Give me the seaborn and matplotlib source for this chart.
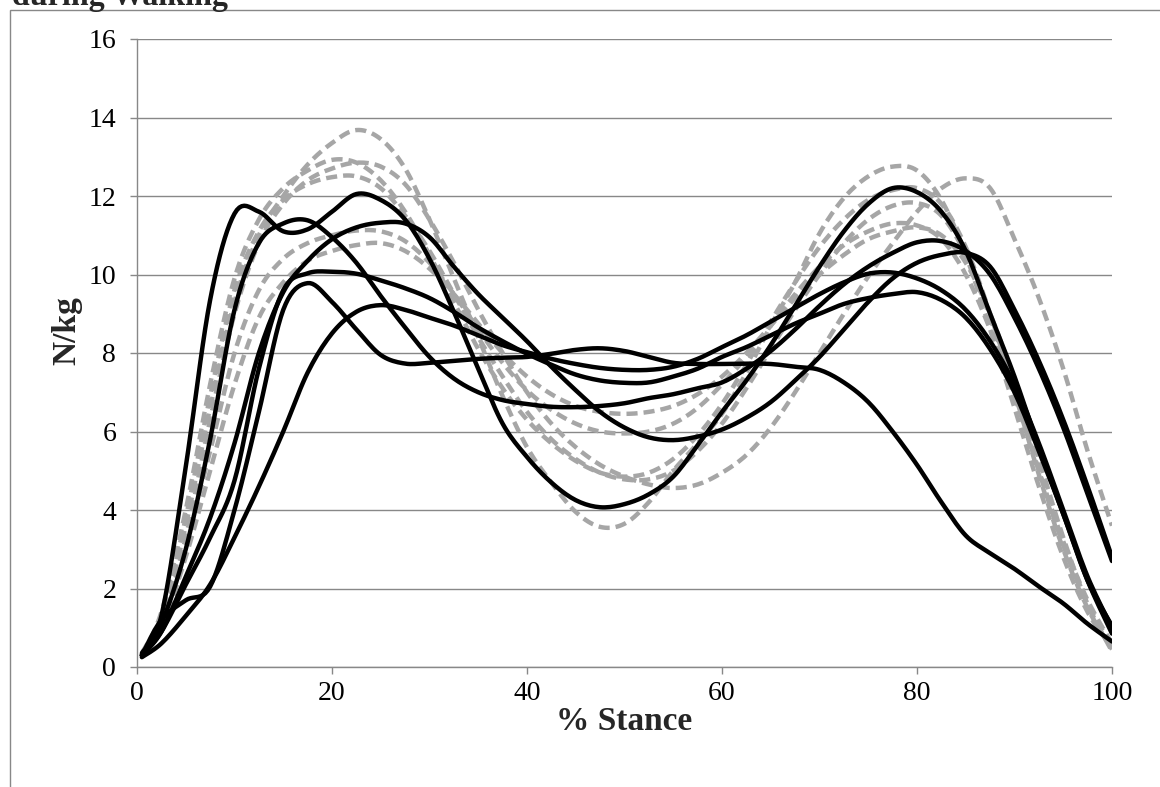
import matplotlib
matplotlib.use("Agg")
import matplotlib.pyplot as plt
from matplotlib.patches import Rectangle
import numpy as np
import pandas as pd
import seaborn as sns

# % stance sample points
stance = [0.5, 2.5, 5, 7.5, 10, 12.5, 15, 17.5, 20, 22.5, 25, 27.5, 30, 32.5, 35,
          37.5, 40, 42.5, 45, 47.5, 50, 52.5, 55, 57.5, 60, 62.5, 65, 67.5, 70,
          72.5, 75, 77.5, 80, 82.5, 85, 87.5, 90, 92.5, 95, 97.5, 100]

# vertical force (N/kg), solid black group
black_1 = [0.35, 1.3, 5.1, 9.35, 11.55, 11.6, 11.1, 11.15, 11.6, 12.05, 11.9, 11.4, 10.4,
           9.05, 7.6, 6.2, 5.35, 4.7, 4.25, 4.07, 4.15, 4.4, 4.85, 5.65, 6.5, 7.3, 8.2,
           9.2, 10.2, 11.1, 11.8, 12.2, 12.1, 11.6, 10.6, 9.0, 7.4, 5.6, 3.9, 2.2, 1.05]
black_2 = [0.3, 1.1, 3.0, 5.8, 9.1, 10.8, 11.3, 11.38, 10.95, 10.3, 9.45, 8.65, 7.9, 7.35,
           7.0, 6.8, 6.7, 6.63, 6.62, 6.65, 6.72, 6.85, 6.95, 7.1, 7.25, 7.6, 8.05, 8.6,
           9.2, 9.75, 10.2, 10.55, 10.82, 10.85, 10.6, 10.0, 8.9, 7.6, 6.1, 4.4, 2.7]
black_3 = [0.3, 0.9, 2.3, 3.8, 5.7, 8.0, 9.55, 10.35, 10.9, 11.2, 11.32, 11.3, 10.95, 10.2,
           9.5, 8.9, 8.3, 7.65, 7.05, 6.5, 6.1, 5.85, 5.78, 5.87, 6.05, 6.35, 6.75, 7.3,
           7.9, 8.6, 9.3, 9.9, 10.3, 10.5, 10.55, 10.2, 9.1, 7.8, 6.3, 4.6, 2.8]
black_4 = [0.3, 0.9, 2.1, 3.3, 4.75, 7.6, 9.6, 10.03, 10.07, 10.02, 9.85, 9.65, 9.4, 9.05,
           8.65, 8.3, 7.98, 7.7, 7.45, 7.3, 7.24, 7.25, 7.4, 7.6, 7.9, 8.15, 8.45, 8.75,
           9.0, 9.25, 9.4, 9.5, 9.55, 9.35, 8.9, 8.1, 7.0, 5.5, 3.9, 2.2, 0.85]
black_5 = [0.25, 0.6, 1.3, 2.1, 3.3, 4.6, 6.0, 7.5, 8.5, 9.05, 9.22, 9.1, 8.9, 8.7, 8.45,
           8.2, 8.02, 7.85, 7.72, 7.62, 7.57, 7.57, 7.65, 7.85, 8.15, 8.45, 8.8, 9.15,
           9.5, 9.8, 10.02, 10.05, 9.9, 9.6, 9.1, 8.3, 7.2, 5.7, 4.0, 2.3, 1.0]
black_6 = [0.3, 1.2, 1.7, 2.05, 4.0, 6.5, 9.1, 9.78, 9.3, 8.6, 7.95, 7.73, 7.75, 7.8, 7.85,
           7.88, 7.9, 7.98, 8.08, 8.12, 8.05, 7.9, 7.75, 7.72, 7.72, 7.73, 7.72, 7.65,
           7.57, 7.25, 6.75, 6.0, 5.15, 4.2, 3.35, 2.9, 2.5, 2.05, 1.62, 1.1, 0.65]

# vertical force (N/kg), dashed grey group
grey_1 = [0.35, 1.2, 3.6, 6.6, 9.3, 11.0, 12.0, 12.8, 13.35, 13.68, 13.45, 12.7, 11.4, 9.9,
          8.4, 6.9, 5.6, 4.7, 3.95, 3.57, 3.65, 4.2, 5.0, 5.7, 6.45, 7.5, 8.7, 9.8,
          11.05, 11.95, 12.5, 12.75, 12.65, 11.9, 10.5, 8.6, 6.6, 4.6, 2.8, 1.4, 0.5]
grey_2 = [0.35, 1.4, 4.0, 7.2, 9.9, 11.4, 12.2, 12.65, 12.92, 12.85, 12.4, 11.6, 10.5, 9.3,
          8.1, 7.1, 6.3, 5.7, 5.25, 4.95, 4.85, 4.95, 5.3, 5.9, 6.7, 7.7, 8.8, 9.8, 10.7,
          11.4, 11.9, 12.15, 12.2, 11.8, 10.7, 9.0, 7.0, 4.9, 3.0, 1.5, 0.45]
grey_3 = [0.3, 1.1, 3.3, 6.3, 9.0, 10.8, 11.8, 12.4, 12.7, 12.85, 12.75, 12.3, 11.4, 10.3,
          9.1, 8.0, 7.0, 6.2, 5.6, 5.15, 4.85, 4.65, 4.56, 4.65, 4.95, 5.4, 6.1, 7.0,
          8.0, 9.0, 9.95, 10.8, 11.6, 12.2, 12.45, 12.2, 10.9, 9.4, 7.6, 5.5, 3.6]
grey_4 = [0.3, 1.3, 3.8, 6.9, 9.6, 11.1, 11.9, 12.3, 12.48, 12.5, 12.2, 11.5, 10.6, 9.5,
          8.4, 7.4, 6.5, 5.8, 5.3, 4.95, 4.78, 4.78, 5.0, 5.5, 6.2, 7.1, 8.1, 9.1, 10.0,
          10.8, 11.4, 11.75, 11.82, 11.5, 10.5, 8.9, 7.0, 5.0, 3.1, 1.6, 0.55]
grey_5 = [0.3, 1.1, 3.1, 5.5, 8.0, 9.6, 10.4, 10.8, 11.0, 11.12, 11.1, 10.85, 10.3, 9.5,
          8.6, 7.75, 7.05, 6.55, 6.2, 6.0, 5.95, 6.0, 6.2, 6.6, 7.2, 7.9, 8.7, 9.5,
          10.2, 10.75, 11.1, 11.3, 11.25, 10.9, 10.0, 8.6, 6.9, 5.0, 3.2, 1.7, 0.6]
grey_6 = [0.3, 1.0, 2.8, 5.0, 7.2, 8.9, 9.8, 10.35, 10.6, 10.75, 10.8, 10.6, 10.15, 9.5,
          8.75, 8.0, 7.4, 6.95, 6.65, 6.5, 6.45, 6.5, 6.65, 6.95, 7.4, 8.0, 8.7, 9.4,
          10.0, 10.5, 10.9, 11.1, 11.2, 11.0, 10.3, 9.0, 7.3, 5.3, 3.3, 1.6, 0.4]

black_series = [black_1, black_2, black_3, black_4, black_5, black_6]
grey_series = [grey_1, grey_2, grey_3, grey_4, grey_5, grey_6]

y_ticks = [0, 2, 4, 6, 8, 10, 12, 14, 16]
x_ticks = [0, 20, 40, 60, 80, 100]


def smoothed(xs, ys, steps=10):
    """Smoothed-line rendering (Catmull-Rom through every recorded sample)."""
    p = np.column_stack([xs, ys]).astype(float)
    p = np.vstack([p[0], p, p[-1]])
    out = []
    t = np.linspace(0, 1, steps, endpoint=False)[:, None]
    for i in range(1, len(p) - 2):
        p0, p1, p2, p3 = p[i - 1], p[i], p[i + 1], p[i + 2]
        seg = 0.5 * ((2 * p1) + (-p0 + p2) * t + (2 * p0 - 5 * p1 + 4 * p2 - p3) * t ** 2
                     + (-p0 + 3 * p1 - 3 * p2 + p3) * t ** 3)
        out.append(seg)
    out.append(p[-2][None, :])
    out = np.vstack(out)
    return out[:, 0], out[:, 1]


def to_long(series_list, group):
    frames = []
    for i, vals in enumerate(series_list):
        sx, sy = smoothed(stance, vals)
        frames.append(pd.DataFrame({"stance": sx, "force": sy,
                                    "trial": f"{group}{i + 1}", "group": group}))
    return pd.concat(frames, ignore_index=True)


df_grey = to_long(grey_series, "g")
df_black = to_long(black_series, "b")

sns.set_theme(style="white")
plt.rcParams["font.family"] = ["Liberation Serif", "DejaVu Serif"]

W, H = 1160, 787
fig = plt.figure(figsize=(W / 100, H / 100), dpi=100)
ax = fig.add_axes([137 / W, 1 - 667 / H, (1112 - 137) / W, (667 - 39) / H])

grid_c = "#888888"

sns.lineplot(data=df_grey, x="stance", y="force", units="trial", estimator=None,
             color="#A6A6A6", linewidth=3.2, linestyle=(0, (2.5, 1.35)),
             ax=ax, legend=False, sort=False)
sns.lineplot(data=df_black, x="stance", y="force", units="trial", estimator=None,
             color="#000000", linewidth=3.2, ax=ax, legend=False, sort=False)
for ln in ax.lines:
    ln.set_solid_joinstyle("round")
    ln.set_solid_capstyle("round")

ax.set_xlim(0, 100)
ax.set_ylim(0, 16)
ax.set_xticks(x_ticks)
ax.set_yticks(y_ticks)
ax.set_xticklabels([str(v) for v in x_ticks])
ax.set_yticklabels([str(v) for v in y_ticks])
ax.yaxis.grid(True, color=grid_c, linewidth=1.0)
ax.xaxis.grid(False)
ax.set_axisbelow(True)
for side in ["top", "right"]:
    ax.spines[side].set_visible(False)
for side in ["left", "bottom"]:
    ax.spines[side].set_color(grid_c)
    ax.spines[side].set_linewidth(1.0)
ax.tick_params(axis="both", which="major", direction="out", length=5, width=1.0,
               color=grid_c, labelsize=20, labelcolor="black",
               bottom=True, left=True)
ax.tick_params(axis="y", pad=10)
ax.tick_params(axis="x", pad=5)

ax.set_xlabel("% Stance", fontsize=24, fontweight="bold", labelpad=0)
ax.set_ylabel("N/kg", fontsize=24, fontweight="bold")
ax.yaxis.set_label_coords(-0.056, 0.535)

# chart-area border and the title's last line
fig.add_artist(Rectangle((10 / W, -0.2), 2.0, 1.2 - 9.5 / H, transform=fig.transFigure,
                         fill=False, edgecolor=grid_c, linewidth=1.0))
fig.text(12 / W, 1 - 5 / H, "during Walking", fontsize=23, fontweight="bold",
         ha="left", va="baseline")

fig.savefig("out.png", dpi=100)
